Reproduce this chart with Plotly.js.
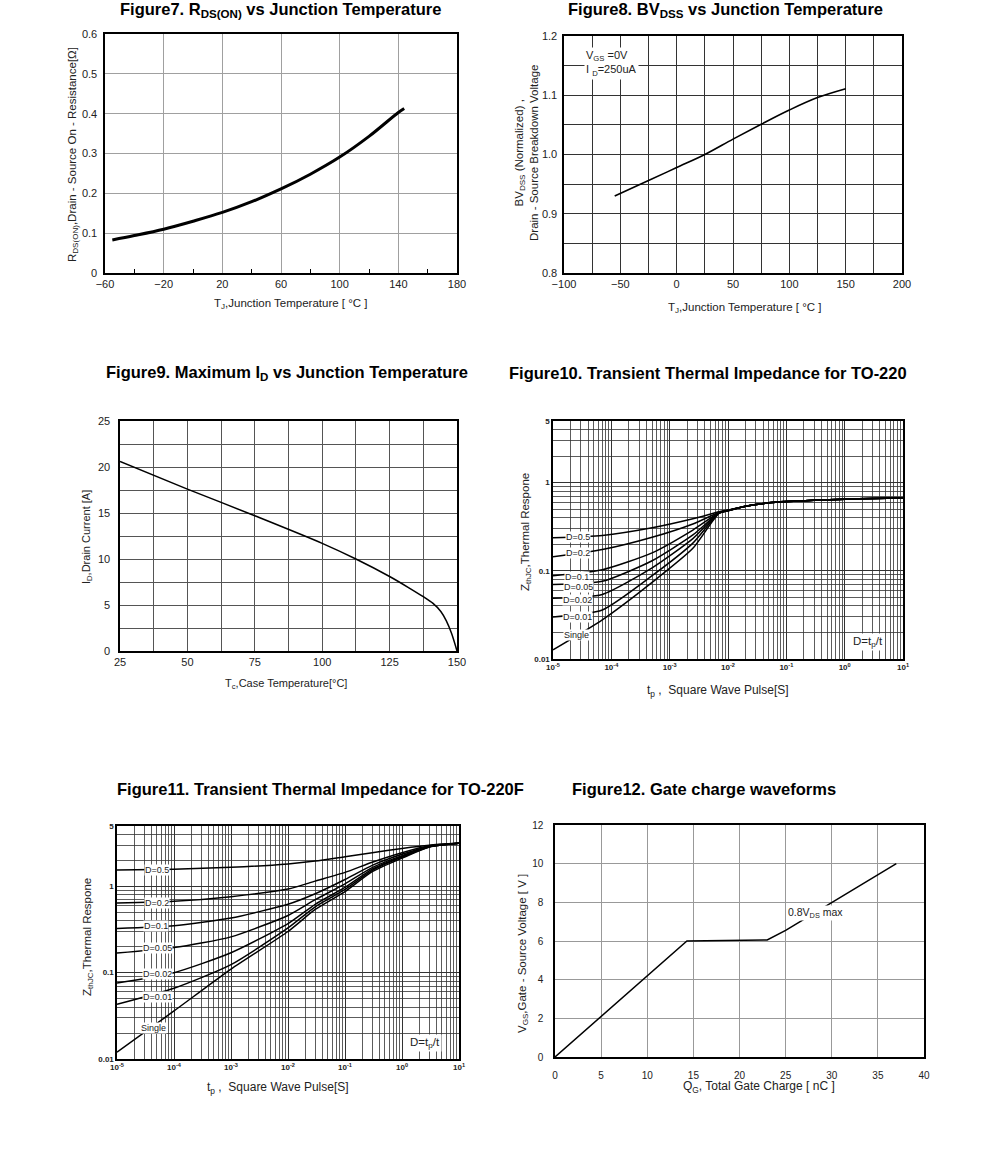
<!DOCTYPE html>
<html><head><meta charset="utf-8">
<script src="https://cdn.plot.ly/plotly-3.0.1.min.js"></script>
<style>body{margin:0;background:#fff}#chart{width:991px;height:1164px}</style>
</head><body><div id="chart"></div>
<script>
// ---------- DATA ----------
// Figure 7
const f7_tj = [-55, -40, -20, 0, 20, 40, 60, 80, 100, 120, 140, 144];
const f7_rds = [0.083, 0.094, 0.110, 0.130, 0.152, 0.179, 0.211, 0.248, 0.291, 0.343, 0.403, 0.413];
const f7_yticks = [0, 0.1, 0.2, 0.3, 0.4, 0.5, 0.6];
const f7_ylabels = ['0', '0.1', '0.2', '0.3', '0.4', '0.5', '0.6'];
// Figure 8
const f8_tj = [-55, -25, 0, 25, 50, 75, 100, 125, 150];
const f8_bv = [0.930, 0.956, 0.978, 1.0, 1.026, 1.051, 1.075, 1.096, 1.111];
// Figure 9
const f9_tc = [25, 50, 75, 100, 112.5, 125, 132, 137.5, 141, 144, 146, 148, 150];
const f9_id = [20.6, 17.6, 14.7, 11.7, 10.0, 8.1, 6.9, 5.9, 5.2, 4.3, 3.3, 1.9, 0];
// Figure 10 (TO-220)
const f10_tp = [1e-5, 7e-5, 5e-4, 2.5e-3, 7e-3, 1e-2, 2e-2, 5e-2, 0.1, 0.3, 1, 3, 10];
const f10_d05 = [0.237, 0.252, 0.308, 0.39, 0.467, 0.49, 0.54, 0.59, 0.61, 0.63, 0.65, 0.66, 0.67];
const f10_d02 = [0.144, 0.174, 0.240, 0.340, 0.458, 0.485, 0.54, 0.59, 0.61, 0.63, 0.65, 0.66, 0.67];
const f10_d01 = [0.088, 0.103, 0.160, 0.290, 0.455, 0.483, 0.54, 0.59, 0.61, 0.63, 0.65, 0.66, 0.67];
const f10_d005 = [0.070, 0.076, 0.130, 0.255, 0.454, 0.482, 0.54, 0.59, 0.61, 0.63, 0.65, 0.66, 0.67];
const f10_d002 = [0.049, 0.054, 0.108, 0.232, 0.452, 0.481, 0.54, 0.59, 0.61, 0.63, 0.65, 0.66, 0.67];
const f10_d001 = [0.030, 0.036, 0.088, 0.206, 0.45, 0.48, 0.54, 0.59, 0.61, 0.63, 0.65, 0.66, 0.67];
const f10_single = [0.0127, 0.0278, 0.074, 0.180, 0.448, 0.48, 0.54, 0.59, 0.61, 0.63, 0.65, 0.66, 0.67];
const f10_labels = ['D=0.5', 'D=0.2', 'D=0.1', 'D=0.05', 'D=0.02', 'D=0.01', 'Single'];
const f10_label_x = [2.7e-5, 2.7e-5, 2.6e-5, 2.7e-5, 2.6e-5, 2.6e-5, 2.5e-5];
const f10_label_y = [0.239, 0.161, 0.086, 0.066, 0.047, 0.030, 0.0188];
// Figure 11 (TO-220F)
const f11_tp = [1e-5, 1e-4, 1e-3, 1e-2, 3e-2, 0.1, 0.3, 1, 3, 10];
const f11_d05 = [1.55, 1.58, 1.66, 1.82, 1.96, 2.2, 2.45, 2.75, 3.0, 3.15];
const f11_d02 = [0.64, 0.67, 0.76, 0.93, 1.15, 1.45, 1.9, 2.45, 2.95, 3.15];
const f11_d01 = [0.325, 0.35, 0.43, 0.62, 0.82, 1.2, 1.75, 2.35, 2.9, 3.15];
const f11_d005 = [0.169, 0.195, 0.26, 0.46, 0.70, 1.07, 1.65, 2.27, 2.88, 3.15];
const f11_d002 = [0.076, 0.10, 0.17, 0.37, 0.62, 0.97, 1.58, 2.22, 2.87, 3.15];
const f11_d001 = [0.043, 0.066, 0.124, 0.33, 0.58, 0.92, 1.53, 2.18, 2.86, 3.15];
const f11_single = [0.012, 0.036, 0.11, 0.30, 0.54, 0.87, 1.48, 2.12, 2.85, 3.15];
const f11_labels = ['D=0.5', 'D=0.2', 'D=0.1', 'D=0.05', 'D=0.02', 'D=0.01', 'Single'];
const f11_label_x = [5e-5, 5e-5, 4.9e-5, 5.2e-5, 5.2e-5, 5.2e-5, 4.3e-5];
const f11_label_y = [1.55, 0.649, 0.35, 0.192, 0.097, 0.052, 0.0229];
// log axis ticks (Fig 10/11)
const tp_ticks = [1e-5, 1e-4, 1e-3, 1e-2, 1e-1, 1, 10];
const tp_ticklabels = ['10<sup>-5</sup>', '10<sup>-4</sup>', '10<sup>-3</sup>', '10<sup>-2</sup>', '10<sup>-1</sup>', '10<sup>0</sup>', '10<sup>1</sup>'];
const z_ticks = [0.01, 0.1, 1, 5];
const z_ticklabels = ['0.01', '0.1', '1', '5'];
// Figure 12
const f12_qg = [0, 14.3, 23, 25, 37];
const f12_vgs = [0, 6.0, 6.05, 6.55, 10];

// ---------- LAYOUT HELPERS ----------
const W = 991, H = 1164;
const FONT = '"Liberation Sans", Arial, sans-serif';
const xd = (a, b) => [a / W, b / W];
const yd = (t, b) => [1 - b / H, 1 - t / H];
const px = p => p / W, py = p => 1 - p / H;

function minorLog(lo, hi) {
  const v = [];
  for (let e = lo; e < hi; e++) for (let k = 2; k <= 9; k++) v.push(k * Math.pow(10, e));
  return v;
}

function ax(domain, anchor, extra) {
  return Object.assign({
    domain, anchor, showline: true, mirror: true, linecolor: '#000', linewidth: 1.6,
    zeroline: false, showgrid: true, gridcolor: '#999', gridwidth: 1, ticks: '',
    tickfont: {family: FONT, size: 11, color: '#222'}, fixedrange: true
  }, extra);
}

const line = (w) => ({color: '#000', width: w});

const traces = [
  {x: f7_tj, y: f7_rds, xaxis: 'x', yaxis: 'y', mode: 'lines', line: Object.assign(line(3), {shape: 'spline'})},
  {x: f8_tj, y: f8_bv, xaxis: 'x2', yaxis: 'y2', mode: 'lines', line: Object.assign(line(1.6), {shape: 'spline'})},
  {x: f9_tc, y: f9_id, xaxis: 'x3', yaxis: 'y3', mode: 'lines', line: Object.assign(line(1.5), {shape: 'spline', smoothing: 0.8})},
];
[f10_d05, f10_d02, f10_d01, f10_d005, f10_d002, f10_d001, f10_single].forEach(s => {
  traces.push({x: f10_tp, y: s, xaxis: 'x4', yaxis: 'y4', mode: 'lines', line: Object.assign(line(1.5), {shape: 'spline', smoothing: 0.6})});
});
[f11_d05, f11_d02, f11_d01, f11_d005, f11_d002, f11_d001, f11_single].forEach(s => {
  traces.push({x: f11_tp, y: s, xaxis: 'x5', yaxis: 'y5', mode: 'lines', line: Object.assign(line(1.5), {shape: 'spline', smoothing: 0.6})});
});
traces.push({x: f12_qg, y: f12_vgs, xaxis: 'x6', yaxis: 'y6', mode: 'lines', line: line(1.5)});

const logTickFont = {family: FONT, size: 8, color: '#222', weight: 'bold'};

const layout = {
  width: W, height: H, margin: {l: 0, r: 0, t: 0, b: 0},
  paper_bgcolor: '#fff', plot_bgcolor: '#fff', showlegend: false,
  font: {family: FONT, color: '#222'},
  // Fig 7
  xaxis: ax(xd(105, 457), 'y', {range: [-60, 180], tick0: -60, dtick: 40, gridcolor: '#a0a0a0',
    minor: {tick0: -60, dtick: 20, ticks: 'inside', ticklen: 4, tickcolor: '#000', showgrid: false}}),
  yaxis: ax(yd(34, 273), 'x', {range: [0, 0.6], tickmode: 'array', tickvals: f7_yticks, ticktext: f7_ylabels, gridcolor: '#a0a0a0', ticklabelstandoff: 4}),
  // Fig 8
  xaxis2: ax(xd(564, 902), 'y2', {range: [-100, 200], dtick: 50, gridcolor: '#333',
    minor: {dtick: 25, showgrid: true, gridcolor: '#333', gridwidth: 1}}),
  yaxis2: ax(yd(36, 273), 'x2', {range: [0.8, 1.2], dtick: 0.1, tickformat: '.1f', gridcolor: '#333',
    minor: {dtick: 0.05, showgrid: true, gridcolor: '#333', gridwidth: 1}, ticklabelstandoff: 3}),
  // Fig 9
  xaxis3: ax(xd(120, 457), 'y3', {range: [25, 150], dtick: 25, gridcolor: '#555',
    minor: {dtick: 12.5, showgrid: true, gridcolor: '#555', gridwidth: 1}}),
  yaxis3: ax(yd(421, 651), 'x3', {range: [0, 25], dtick: 5, gridcolor: '#555',
    minor: {dtick: 2.5, showgrid: true, gridcolor: '#555', gridwidth: 1}, ticklabelstandoff: 6}),
  // Fig 10
  xaxis4: ax(xd(553, 903), 'y4', {type: 'log', range: [-5, 1], tickmode: 'array', tickvals: tp_ticks, ticktext: tp_ticklabels,
    gridcolor: '#333', tickfont: logTickFont, minor: {tickmode: 'array', tickvals: minorLog(-5, 1), showgrid: true, gridcolor: '#333', gridwidth: 0.8}}),
  yaxis4: ax(yd(421, 659), 'x4', {type: 'log', range: [-2, Math.log10(5)], tickmode: 'array', tickvals: z_ticks, ticktext: z_ticklabels,
    gridcolor: '#333', tickfont: logTickFont, minor: {tickmode: 'array', tickvals: minorLog(-2, 1), showgrid: true, gridcolor: '#333', gridwidth: 0.8}}),
  // Fig 11
  xaxis5: ax(xd(117, 459), 'y5', {type: 'log', range: [-5, 1], tickmode: 'array', tickvals: tp_ticks, ticktext: tp_ticklabels,
    gridcolor: '#333', tickfont: logTickFont, minor: {tickmode: 'array', tickvals: minorLog(-5, 1), showgrid: true, gridcolor: '#333', gridwidth: 0.8}}),
  yaxis5: ax(yd(826, 1059), 'x5', {type: 'log', range: [-2, Math.log10(5)], tickmode: 'array', tickvals: z_ticks, ticktext: z_ticklabels,
    gridcolor: '#333', tickfont: logTickFont, minor: {tickmode: 'array', tickvals: minorLog(-2, 1), showgrid: true, gridcolor: '#333', gridwidth: 0.8}}),
  // Fig 12
  xaxis6: ax(xd(555, 924), 'y6', {range: [0, 40], dtick: 5, gridcolor: '#999', tickfont: {family: FONT, size: 10, color: '#222'}, ticklabelstandoff: 8}),
  yaxis6: ax(yd(825, 1057), 'x6', {range: [0, 12], dtick: 2, gridcolor: '#999', tickfont: {family: FONT, size: 10, color: '#222'}, ticklabelstandoff: 8}),
  annotations: []
};

const A = layout.annotations;
function title(text, x, y) {
  A.push({text: '<b>' + text + '</b>', x: px(x), y: py(y), xref: 'paper', yref: 'paper', xanchor: 'center', yanchor: 'middle', showarrow: false,
    font: {family: FONT, size: 16.5, color: '#000'}});
}
function axt(text, x, y, rot, size) {
  A.push({text, x: px(x), y: py(y), xref: 'paper', yref: 'paper', xanchor: 'center', yanchor: 'middle', showarrow: false,
    textangle: rot ? -90 : 0, font: {family: FONT, size: size || 11, color: '#222'}});
}
title('Figure7. R<sub>DS(ON)</sub> vs Junction Temperature', 280, 10);
title('Figure8. BV<sub>DSS</sub> vs Junction Temperature', 725, 10);
title('Figure9. Maximum I<sub>D</sub> vs Junction Temperature', 287, 373);
title('Figure10. Transient Thermal Impedance for TO-220', 708, 373);
title('Figure11. Transient Thermal Impedance for TO-220F', 320, 789);
title('Figure12. Gate charge waveforms', 704, 789);

axt('T<sub>J</sub>,Junction Temperature [ °C ]', 291, 304, false, 11.5);
axt('R<sub>DS(ON)</sub>,Drain - Source On - Resistance[Ω]', 73, 155, true, 11.5);
axt('T<sub>J</sub>,Junction Temperature [ °C ]', 745, 308, false, 11.5);
axt('BV<sub>DSS</sub> (Normalized) ,<br>Drain - Source Breakdown Voltage', 527, 153, true, 11.5);
axt('T<sub>c</sub>,Case Temperature[°C]', 286, 684);
axt('I<sub>D</sub>,Drain Current [A]', 87, 537, true);
axt('t<sub>p</sub> ,  Square Wave Pulse[S]', 718, 691, false, 12);
axt('Z<sub>thJC</sub>,Thermal Respone', 526, 532, true, 11.5);
axt('t<sub>p</sub> ,  Square Wave Pulse[S]', 278, 1088, false, 12);
axt('Z<sub>thJC</sub>,Thermal Respone', 88, 937, true, 11.5);
axt('Q<sub>G</sub>, Total Gate Charge [ nC ]', 759, 1087, false, 12);
axt('V<sub>GS</sub>,Gate - Source Voltage [ V ]', 523, 954, true, 11.5);

// Fig 8 condition note
A.push({text: 'V<sub>GS</sub> =0V<br>I <sub>D</sub>=250uA', x: px(584), y: py(47), xref: 'paper', yref: 'paper', xanchor: 'left', yanchor: 'top',
  align: 'left', showarrow: false, bgcolor: '#fff', font: {family: FONT, size: 11, color: '#222'}});

// Fig 10 / 11 series labels
f10_labels.forEach((t, i) => A.push({text: t, x: Math.log10(f10_label_x[i]), y: Math.log10(f10_label_y[i]), xref: 'x4', yref: 'y4',
  showarrow: false, bgcolor: '#fff', borderpad: 0, font: {family: FONT, size: 9, color: '#222'}}));
f11_labels.forEach((t, i) => A.push({text: t, x: Math.log10(f11_label_x[i]), y: Math.log10(f11_label_y[i]), xref: 'x5', yref: 'y5',
  showarrow: false, bgcolor: '#fff', borderpad: 0, font: {family: FONT, size: 9, color: '#222'}}));
A.push({text: 'D=t<sub>p</sub>/t', x: Math.log10(2.5), y: Math.log10(0.0155), xref: 'x4', yref: 'y4', showarrow: false, bgcolor: '#fff',
  font: {family: FONT, size: 11.5, color: '#222'}});
A.push({text: 'D=t<sub>p</sub>/t', x: Math.log10(2.5), y: Math.log10(0.0155), xref: 'x5', yref: 'y5', showarrow: false, bgcolor: '#fff',
  font: {family: FONT, size: 11.5, color: '#222'}});
// Fig 12 label
A.push({text: '0.8V<sub>DS</sub> max', x: 28.2, y: 7.45, xref: 'x6', yref: 'y6', showarrow: false, bgcolor: '#fff', borderpad: 0,
  font: {family: FONT, size: 10.5, color: '#222'}});

Plotly.newPlot('chart', traces, layout, {staticPlot: true, displayModeBar: false});
</script></body></html>
